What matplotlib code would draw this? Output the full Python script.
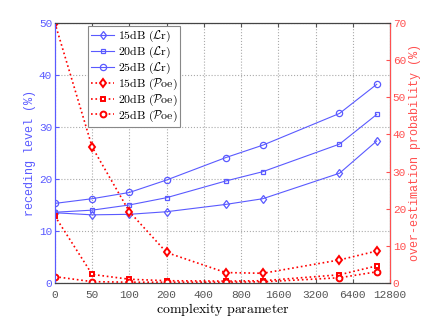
import numpy as np
import matplotlib
matplotlib.use('Agg')
import matplotlib.pyplot as plt

plt.rcParams.update({'font.size': 8, 'mathtext.fontset': 'cm'})

complexity = [0, 50, 100, 200, 600, 1200, 5000, 10000]
tick_values = [0, 50, 100, 200, 400, 800, 1600, 3200, 6400, 12800]

# receding level (%)
lr_15 = [13.5, 13.1, 13.2, 13.7, 15.1, 16.2, 21.1, 27.3]
lr_20 = [13.6, 14.0, 15.0, 16.4, 19.6, 21.4, 26.7, 32.4]
lr_25 = [15.3, 16.2, 17.4, 19.8, 24.1, 26.5, 32.6, 38.2]

# over-estimation probability (%)
poe_15 = [70.0, 36.6, 19.2, 8.2, 2.8, 2.6, 6.2, 8.6]
poe_20 = [18.0, 2.3, 1.0, 0.6, 0.5, 0.6, 2.2, 4.6]
poe_25 = [1.7, 0.35, 0.2, 0.2, 0.2, 0.3, 1.4, 3.0]


def pos(vals):
    vals = np.asarray(vals, dtype=float)
    out = np.zeros_like(vals)
    nz = vals > 0
    out[nz] = np.log2(vals[nz] / 50.0) + 1
    return out


x = pos(complexity)
blue = '#5a5aff'
red = '#ff0000'
lred = '#ff5050'
mono = 'Liberation Mono'

fig = plt.figure(figsize=(4.29, 3.19), dpi=100)
ax = fig.add_axes([0.128, 0.113, 0.781, 0.815])
ax2 = ax.twinx()

l1, = ax.plot(x, lr_15, '-', color=blue, lw=0.8, marker='d', ms=4.5, mfc='none', mew=0.9,
              label=r'$\mathrm{15dB}\ (\mathcal{L}\mathrm{r})$')
l2, = ax.plot(x, lr_20, '-', color=blue, lw=0.8, marker='s', ms=3, mfc='none', mew=0.9,
              label=r'$\mathrm{20dB}\ (\mathcal{L}\mathrm{r})$')
l3, = ax.plot(x, lr_25, '-', color=blue, lw=0.8, marker='o', ms=4.5, mfc='none', mew=0.9,
              label=r'$\mathrm{25dB}\ (\mathcal{L}\mathrm{r})$')

r1, = ax2.plot(x, poe_15, ':', color=red, lw=1.2, marker='d', ms=4.5, mfc='white', mew=1.4,
               label=r'$\mathrm{15dB}\ (\mathcal{P}\mathrm{oe})$')
r2, = ax2.plot(x, poe_20, ':', color=red, lw=1.2, marker='s', ms=3.2, mfc='white', mew=1.4,
               label=r'$\mathrm{20dB}\ (\mathcal{P}\mathrm{oe})$')
r3, = ax2.plot(x, poe_25, ':', color=red, lw=1.2, marker='o', ms=4.2, mfc='white', mew=1.4,
               label=r'$\mathrm{25dB}\ (\mathcal{P}\mathrm{oe})$')

ax.set_xlim(0, len(tick_values) - 1)
ax.set_ylim(0, 50)
ax2.set_ylim(0, 70)
ax.set_xticks(pos(tick_values))
ax.set_xticklabels([str(v) for v in tick_values], fontfamily=mono, color='#555555')
ax.set_yticks(range(0, 51, 10))
ax.set_yticklabels([str(v) for v in range(0, 51, 10)], fontfamily=mono, color=blue)
ax2.set_yticks(range(0, 71, 10))
ax2.set_yticklabels([str(v) for v in range(0, 71, 10)], fontfamily=mono, color=lred)

ax.grid(True, ls=':', color='#aaaaaa', lw=0.8)
ax.tick_params(direction='in', top=True, length=3, pad=2)
ax.tick_params(axis='x', pad=5, colors='#555555')
ax.tick_params(axis='y', colors=blue, labelcolor=blue)
ax2.tick_params(direction='in', length=3, colors=lred, pad=2)

ax.spines['left'].set_color(blue)
ax2.spines['left'].set_color(blue)
ax2.spines['right'].set_color(lred)
for s in ['top', 'bottom']:
    ax2.spines[s].set_color('#444444')

ax.set_xlabel(r'$\mathrm{complexity\ parameter}$', fontsize=10, labelpad=1)
ax.set_ylabel('receding level (%)', fontfamily=mono, color=blue, fontsize=8.5, labelpad=2)
ax2.set_ylabel('over-estimation probability (%)', fontfamily=mono, color=lred,
               fontsize=8.5, labelpad=2)

leg = ax2.legend(handles=[l1, l2, l3, r1, r2, r3], loc='upper left',
                 bbox_to_anchor=(0.098, 0.988), fontsize=8.5, fancybox=False,
                 edgecolor='#888888', framealpha=1, handlelength=2.0,
                 borderpad=0.25, labelspacing=0.05, handletextpad=0.3,
                 borderaxespad=0)
leg.get_frame().set_linewidth(0.8)

fig.savefig('out.png', dpi=100)
